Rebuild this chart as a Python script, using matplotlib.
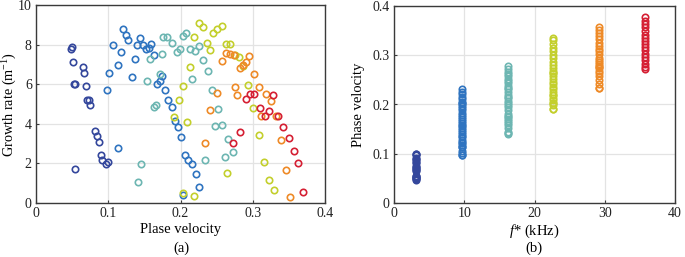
import matplotlib
matplotlib.use("Agg")
import matplotlib.pyplot as plt

plt.rcParams['font.family'] = ['Liberation Serif', 'DejaVu Serif']
plt.rcParams['mathtext.fontset'] = 'custom'
plt.rcParams['mathtext.rm'] = 'Liberation Serif'
plt.rcParams['mathtext.it'] = 'Liberation Serif:italic'

# Frequencies (kHz) of the six groups
freqs = [3.2, 9.7, 16.2, 22.7, 29.2, 35.7]
colors = ['#34479c', '#2f74c0', '#6db6b2', '#c3cf2c', '#ee8a27', '#d51f33']

# Phase velocity / growth rate per group
pv_g1 = [0.048, 0.050, 0.051, 0.052, 0.054, 0.065, 0.066, 0.069, 0.071, 0.073, 0.075,
         0.082, 0.084, 0.087, 0.090, 0.092, 0.097, 0.099, 0.054]
gr_g1 = [7.8, 7.9, 7.14, 6.0, 6.03, 6.86, 6.59, 5.9, 5.2, 5.2, 4.96,
         3.65, 3.36, 3.06, 2.40, 2.15, 1.97, 2.08, 1.70]

pv_g2 = [0.121, 0.124, 0.128, 0.106, 0.117, 0.137, 0.113, 0.101, 0.133, 0.098, 0.144,
         0.140, 0.148, 0.152, 0.156, 0.159, 0.163, 0.175, 0.171, 0.167, 0.179, 0.183,
         0.188, 0.192, 0.196, 0.200, 0.206, 0.211, 0.216, 0.222, 0.226, 0.204, 0.114]
gr_g2 = [8.77, 8.5, 8.24, 8.0, 7.63, 7.26, 6.99, 6.59, 6.35, 5.73, 8.32,
         8.0, 8.0, 7.76, 7.81, 8.02, 7.48, 6.39, 6.18, 6.0, 5.71, 5.21,
         4.86, 4.12, 3.83, 3.34, 2.42, 2.17, 1.97, 1.45, 0.79, 0.42, 2.77]

pv_g3 = [0.176, 0.181, 0.188, 0.203, 0.208, 0.195, 0.199, 0.174, 0.158, 0.213, 0.220,
         0.226, 0.231, 0.238, 0.216, 0.171, 0.153, 0.163, 0.166, 0.244, 0.252, 0.248,
         0.258, 0.266, 0.273, 0.262, 0.234, 0.145, 0.141]
gr_g3 = [8.4, 8.4, 8.07, 8.44, 8.57, 7.65, 7.76, 7.55, 7.28, 7.76, 7.68,
         7.93, 7.23, 6.69, 6.27, 6.52, 6.15, 4.87, 4.96, 5.71, 4.74, 3.9,
         3.95, 3.24, 2.6, 2.3, 2.15, 1.95, 1.06]

pv_g4 = [0.226, 0.231, 0.245, 0.251, 0.257, 0.219, 0.236, 0.241, 0.263, 0.269, 0.275,
         0.281, 0.213, 0.203, 0.198, 0.191, 0.209, 0.294, 0.301, 0.308, 0.315, 0.322,
         0.330, 0.264, 0.219, 0.204, 0.286]
gr_g4 = [9.08, 8.87, 8.57, 8.8, 8.94, 8.4, 8.07, 7.73, 8.03, 8.03, 7.45,
         7.36, 6.89, 5.93, 5.21, 4.32, 4.07, 5.98, 4.79, 3.43, 2.05, 1.18,
         0.64, 1.53, 0.35, 0.5, 6.9]

pv_g5 = [0.263, 0.2685, 0.2745, 0.257, 0.295, 0.290, 0.2865, 0.283, 0.302, 0.276, 0.309,
         0.250, 0.278, 0.319, 0.325, 0.241, 0.312, 0.332, 0.234, 0.339, 0.346, 0.352]
gr_g5 = [7.6, 7.53, 7.48, 7.18, 7.43, 7.13, 6.96, 6.84, 6.5, 5.88, 5.85,
         5.55, 5.43, 5.51, 5.13, 4.69, 4.39, 4.39, 3.03, 3.19, 1.68, 0.32]

pv_g6 = [0.290, 0.296, 0.302, 0.328, 0.310, 0.322, 0.317, 0.335, 0.342, 0.283, 0.273,
         0.350, 0.357, 0.363, 0.370]
gr_g6 = [5.24, 5.48, 5.48, 5.43, 4.82, 4.64, 4.39, 4.39, 3.82, 3.61, 3.03,
         3.29, 2.62, 2.02, 0.55]

# Right panel: phase velocity extents per frequency (dense columns)
pv_right = [
    pv_g1 + [0.047, 0.099],
    pv_g2 + [0.098, 0.231],
    pv_g3 + [0.142, 0.278],
    pv_g4 + [0.191, 0.336],
    pv_g5 + [0.234, 0.358],
    pv_g6 + [0.276, 0.377],
]

pv_left = [pv_g1, pv_g2, pv_g3, pv_g4, pv_g5, pv_g6]
gr_left = [gr_g1, gr_g2, gr_g3, gr_g4, gr_g5, gr_g6]

fig = plt.figure(figsize=(6.85, 2.57), dpi=100)
ax1 = fig.add_axes([36/685, 54/257, 289/685, 198/257])
ax2 = fig.add_axes([394/685, 54/257, 281/685, 197/257])

mk = dict(marker='o', linestyle='none', markerfacecolor='none', markersize=4.6, markeredgewidth=1.2)

for pv, gr, c in zip(pv_left, gr_left, colors):
    ax1.plot(pv, gr, color=c, **mk)

for f, pv, c in zip(freqs, pv_right, colors):
    ax2.plot([f] * len(pv), pv, color=c, **mk)

def style(ax):
    ax.grid(True, color='#e3e3e3', linewidth=0.9)
    ax.set_axisbelow(True)
    for s in ax.spines.values():
        s.set_color('#3a3a3a')
        s.set_linewidth(1.0)
    ax.tick_params(direction='in', length=2.5, width=0.8, colors='#3a3a3a',
                   labelsize=10, labelcolor='#222222', pad=3)

ax1.set_xlim(0, 0.4)
ax1.set_ylim(0, 10)
ax1.set_xticks([0, 0.1, 0.2, 0.3, 0.4])
ax1.set_xticklabels(['0', '0.1', '0.2', '0.3', '0.4'])
ax1.set_yticks([0, 2, 4, 6, 8, 10])
style(ax1)
ax1.set_xlabel('Plase velocity', fontsize=10.5, labelpad=2)
ax1.set_ylabel('Growth rate (m$^{-1}$)', fontsize=10.3)
ax1.yaxis.set_label_coords(-0.060, 0.5)

ax2.set_xlim(0, 40)
ax2.set_ylim(0, 0.4)
ax2.set_xticks([0, 10, 20, 30, 40])
ax2.set_yticks([0, 0.1, 0.2, 0.3, 0.4])
ax2.set_yticklabels(['0', '0.1', '0.2', '0.3', '0.4'])
style(ax2)
ax2.set_xlabel('$f$* (kHz)', fontsize=10.5, labelpad=2)
ax2.set_ylabel('Phase velocity', fontsize=10.5)
ax2.yaxis.set_label_coords(-0.103, 0.5)

fig.text(181/685, 1 - 248/257, '(a)', ha='center', va='center', fontsize=10.5)
fig.text(534/685, 1 - 248/257, '(b)', ha='center', va='center', fontsize=10.5)

fig.savefig('out.png', dpi=100)
